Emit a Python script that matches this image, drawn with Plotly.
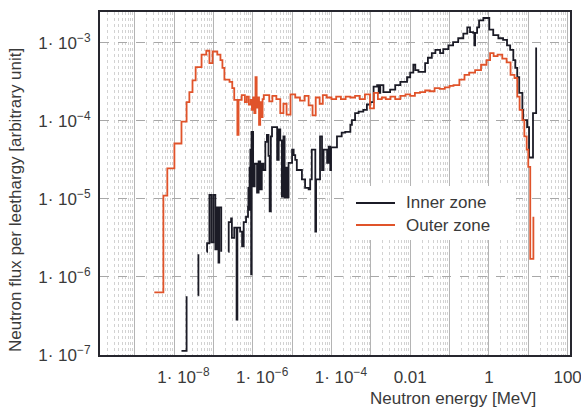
import plotly.graph_objects as go

# ---- data (stored as log10 of energy [MeV] and flux) ----
outer_log10_energy = [
    -8.50, -8.27, -8.17, -7.99, -7.81, -7.68, -7.61, -7.53, -7.45, -7.30,
    -7.18, -7.10, -7.02, -6.90, -6.82, -6.77, -6.72, -6.59, -6.52, -6.47,
    -6.39, -6.36, -6.28, -6.20, -6.15, -6.10, -6.05, -6.02, -5.99, -5.96,
    -5.93, -5.90, -5.87, -5.84, -5.81, -5.78, -5.75, -5.72, -5.65, -5.58,
    -5.50, -5.40, -5.30, -5.22, -5.14, -5.04, -4.92, -4.80, -4.68, -4.58,
    -4.48, -4.40, -4.30, -4.22, -4.12, -4.00, -3.88, -3.76, -3.64, -3.52,
    -3.40, -3.28, -3.15, -3.02, -2.92, -2.82, -2.72, -2.62, -2.50, -2.38,
    -2.25, -2.12, -2.00, -1.88, -1.75, -1.62, -1.50, -1.38, -1.25, -1.12,
    -1.00, -0.90, -0.75, -0.62, -0.50, -0.35, -0.20, -0.06, 0.03, 0.12,
    0.22, 0.34, 0.45, 0.55, 0.65, 0.72, 0.78, 0.85, 0.90, 0.96,
    1.00, 1.05, 1.13,
]
outer_log10_flux = [
    -6.20, -4.96, -4.61, -4.29, -4.01, -3.76, -3.63, -3.48, -3.31, -3.15,
    -3.10, -3.26, -3.11, -3.15, -3.22, -3.32, -3.47, -3.50, -3.58, -3.73,
    -4.18, -3.73, -3.67, -3.76, -3.69, -3.79, -3.73, -3.86, -3.70, -3.90,
    -3.44, -3.83, -3.70, -4.05, -3.76, -3.95, -3.72, -3.67, -3.67, -3.75,
    -3.68, -3.72, -3.90, -3.78, -3.92, -3.66, -3.70, -3.74, -3.68, -3.80,
    -3.93, -3.70, -3.78, -3.67, -3.70, -3.72, -3.69, -3.72, -3.69, -3.70,
    -3.68, -3.72, -3.66, -3.84, -3.64, -3.72, -3.70, -3.72, -3.69, -3.72,
    -3.68, -3.66, -3.68, -3.64, -3.63, -3.61, -3.62, -3.58, -3.59, -3.57,
    -3.55, -3.54, -3.47, -3.41, -3.38, -3.35, -3.28, -3.22, -3.13, -3.17,
    -3.15, -3.20, -3.25, -3.41, -3.45, -3.69, -3.86, -3.99, -4.20, -4.37,
    -4.59, -5.77, -5.23,
]

# None marks an empty (zero) bin, which leaves a gap on the log axis
inner_log10_energy = [
    -7.81, -7.68, None,
    -7.385, -7.38, None,
    -7.17, -7.16, -7.10, -7.05, -7.00, -6.95, -6.91, -6.87, -6.85, -6.80, None,
    -6.62, -6.61, -6.55, -6.53, -6.47, -6.41, -6.39, -6.32, -6.27, -6.23,
    -6.17, -6.12, -6.11, -6.09, -6.08, -6.07, -6.06, -6.05, -6.04, -6.03,
    -5.99, -5.95, -5.89, -5.85, -5.81, -5.77, -5.73, -5.68, -5.64, -5.60,
    -5.57, -5.54, -5.51, -5.43, -5.38, -5.34, -5.30, -5.26, -5.22, -5.19,
    -5.17, -5.13, -5.09, -5.00, -4.96, -4.92, -4.88, -4.75, -4.67, -4.58,
    -4.54, -4.50, -4.45, -4.41, -4.39, -4.29, -4.24, -4.20, -4.11, -4.07,
    -4.03, -4.01, -3.86, -3.74, -3.65, -3.52, -3.48, -3.40, -3.31, -3.19,
    -3.10, -3.01, -2.93, -2.84, -2.80, -2.76, -2.68, -2.51, -2.38, -2.25,
    -2.08, -2.00, -1.92, -1.87, -1.79, -1.62, -1.55, -1.45, -1.36, -1.24,
    -1.16, -1.03, -0.91, -0.78, -0.65, -0.55, -0.48, -0.40, -0.37, -0.35,
    -0.30, -0.25, -0.14, -0.04, 0.01, 0.11, 0.24, 0.36, 0.46, 0.54,
    0.62, 0.67, 0.72, 0.77, 0.85, 0.87, 0.97, 1.02, 1.12, 1.20,
]
inner_log10_flux = [
    -6.95, -6.25, None,
    -6.24, -5.71, None,
    -5.68, -5.57, -4.95, -5.56, -4.95, -5.65, -5.11, -5.82, -5.11, -5.68, None,
    -5.68, -5.30, -5.25, -5.50, -5.37, -6.55, -5.37, -5.42, -5.61, -5.30,
    -5.23, -5.10, -4.86, -5.14, -4.60, -5.00, -4.37, -4.90, -5.97, -4.14,
    -4.84, -4.55, -4.92, -4.52, -4.88, -4.55, -4.63, -4.27, -4.18, -4.45,
    -5.16, -4.20, -4.08, -4.08, -4.50, -4.11, -4.25, -4.97, -4.20, -4.98,
    -4.60, -4.98, -4.54, -4.37, -4.44, -4.50, -4.63, -4.75, -4.86, -4.88,
    -4.75, -4.37, -4.37, -5.42, -4.75, -4.20, -4.63, -4.37, -4.54, -4.33,
    -4.63, -4.34, -4.20, -4.15, -4.14, -4.05, -3.99, -3.90, -3.88, -3.86,
    -3.79, -3.76, -3.56, -3.54, -3.64, -3.54, -3.63, -3.60, -3.54, -3.50,
    -3.44, -3.38, -3.28, -3.35, -3.37, -3.26, -3.19, -3.13, -3.09, -3.13,
    -3.08, -3.03, -2.99, -2.94, -2.88, -2.80, -2.86, -2.87, -3.03, -2.87,
    -2.80, -2.71, -2.68, -2.68, -2.83, -2.90, -2.94, -2.96, -3.03, -3.09,
    -3.22, -3.32, -3.44, -3.64, -3.86, -3.99, -4.08, -4.47, -3.90, -3.06,
]

x_tick_exponents = [-9, -8, -7, -6, -5, -4, -3, -2, -1, 0, 1, 2]
x_tick_labels = ["", "1· 10<sup>−8</sup>", "", "1· 10<sup>−6</sup>", "",
                 "1· 10<sup>−4</sup>", "", "0.01", "", "1", "", "100"]
y_tick_exponents = [-7, -6, -5, -4, -3]
y_tick_labels = ["1· 10<sup>−7</sup>", "1· 10<sup>−6</sup>", "1· 10<sup>−5</sup>",
                 "1· 10<sup>−4</sup>", "1· 10<sup>−3</sup>"]

series_names = ["Inner zone", "Outer zone"]
series_colors = ["#1b1b26", "#e0532a"]


def pow10(values):
    return [None if v is None else 10 ** v for v in values]


# the reference's power-of-ten labels sit a little right of their grid line
def nudge(label):
    return ("&nbsp;" * 4 + label) if "sup" in label else label


FONT = "Liberation Sans, Arial, sans-serif"
TEXT = "#3a3a3a"
FS = 17

fig = go.Figure()
fig.add_trace(go.Scatter(
    x=pow10(inner_log10_energy), y=pow10(inner_log10_flux), mode="lines",
    line=dict(shape="hv", color=series_colors[0], width=1.8), connectgaps=False,
    name=series_names[0]))
fig.add_trace(go.Scatter(
    x=pow10(outer_log10_energy), y=pow10(outer_log10_flux), mode="lines",
    line=dict(shape="hv", color=series_colors[1], width=1.8), connectgaps=False,
    name=series_names[1]))


# hand-placed legend box (paper coordinates of the plot area: x 100..570, y 12..355 px)
def px_x(p):
    return (p - 100) / 470.0


def px_y(p):
    return (355 - p) / 343.0


shapes = [
    dict(type="rect", xref="paper", yref="paper", x0=px_x(346), x1=px_x(516),
         y0=px_y(240), y1=px_y(186), fillcolor="white", line=dict(width=0),
         layer="above"),
]
annotations = [
    dict(text="Neutron energy [MeV]", xref="paper", yref="paper",
         x=px_x(453), y=px_y(398), xanchor="center", yanchor="middle",
         showarrow=False, font=dict(size=FS, color=TEXT)),
    dict(text="Neutron flux per leethargy [arbitrary unit]", xref="paper",
         yref="paper", x=px_x(15), y=px_y(200), xanchor="center", yanchor="middle",
         textangle=-90, showarrow=False, font=dict(size=FS, color=TEXT)),
]
for i, (name, color) in enumerate(zip(series_names, series_colors)):
    yc = 203 + 22 * i
    shapes.append(dict(type="line", xref="paper", yref="paper",
                       x0=px_x(356), x1=px_x(395), y0=px_y(yc), y1=px_y(yc),
                       line=dict(color=color, width=2), layer="above"))
    annotations.append(dict(text=name, xref="paper", yref="paper",
                            x=px_x(404), y=px_y(yc), xanchor="left",
                            yanchor="middle", showarrow=False,
                            font=dict(size=FS, color=TEXT)))

fig.update_layout(
    width=581, height=409,
    margin=dict(l=100, r=11, t=12, b=54, autoexpand=False),
    paper_bgcolor="white", plot_bgcolor="white",
    font=dict(family=FONT, size=FS, color=TEXT),
    showlegend=False,
    shapes=shapes,
    annotations=annotations,
    xaxis=dict(
        type="log", range=[-9.88, 2.06], automargin=False,
        tickmode="array", tickvals=[10 ** e for e in x_tick_exponents],
        ticktext=[nudge(t) for t in x_tick_labels], ticks="",
        ticklabelstandoff=6, ticklabeloverflow="allow",
        showgrid=True, gridcolor="#b4b4b4", gridwidth=1,
        minor=dict(dtick="D1", showgrid=True, gridcolor="#d2d2d2",
                   griddash="dot", gridwidth=1),
        showline=True, linecolor="#26262e", linewidth=2, mirror=True,
        zeroline=False, tickfont=dict(size=FS, color=TEXT),
    ),
    yaxis=dict(
        type="log", range=[-7.004, -2.603], automargin=False,
        tickmode="array", tickvals=[10 ** e for e in y_tick_exponents],
        ticktext=y_tick_labels, ticks="", ticklabelstandoff=4,
        showgrid=True, gridcolor="#a8a8a8", gridwidth=1, griddash="dash",
        showline=True, linecolor="#26262e", linewidth=2, mirror=True,
        zeroline=False, tickfont=dict(size=FS, color=TEXT),
    ),
)

fig.write_html("out.html")
